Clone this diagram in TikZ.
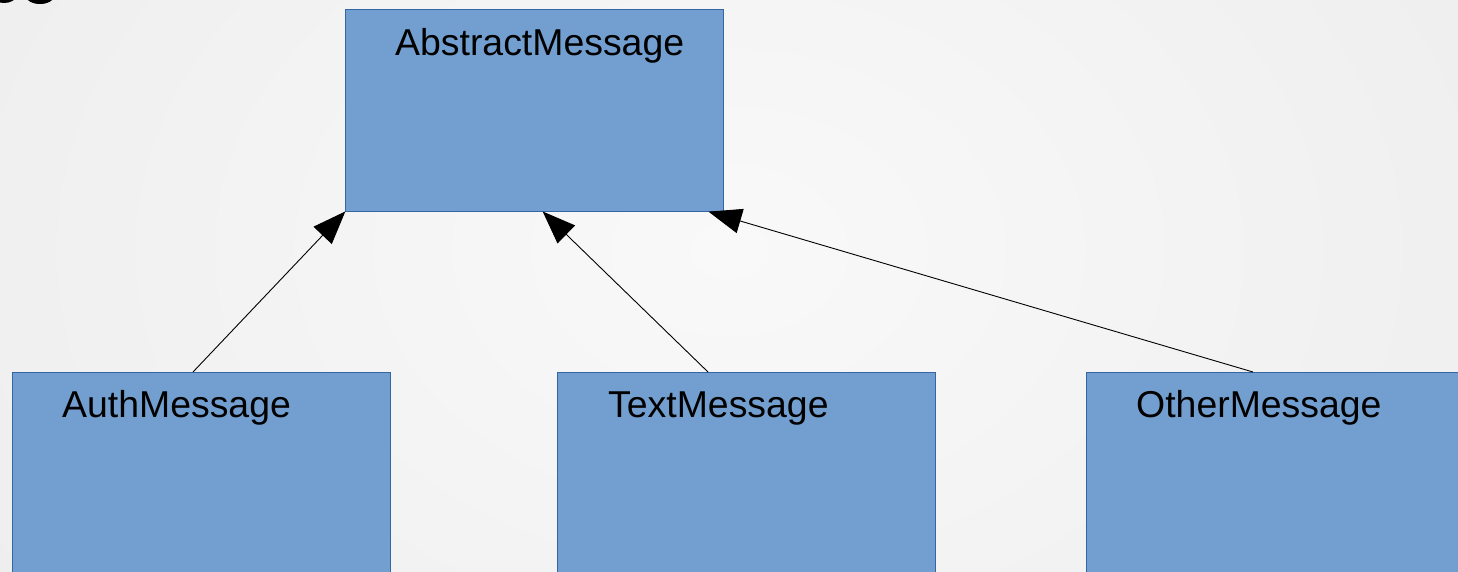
\documentclass[tikz,border=0pt]{standalone}
\usepackage{fontspec}
\setmainfont{Liberation Sans}
\usetikzlibrary{arrows.meta,calc}
\definecolor{boxfill}{HTML}{729FCF}
\definecolor{boxline}{HTML}{3465A4}
\definecolor{bginner}{HTML}{F9F9F9}
\definecolor{bgouter}{HTML}{ECECEC}
\tikzset{
  classbox/.style={draw=boxline, line width=0.8pt, fill=boxfill, rectangle,
    anchor=north west, minimum width=378pt, inner sep=0pt},
  classname/.style={anchor=base west, inner sep=0pt, font=\fontsize{37.4}{40}\selectfont},
  inherit/.style={draw=black, line width=0.9pt,
    -{Triangle[length=33pt,width=25pt]}, shorten >=-0.5pt},
}
\begin{document}
\begin{tikzpicture}[x=1pt,y=-1pt]
  \useasboundingbox (0,0) rectangle (1458,571);
  \clip (0,0) rectangle (1458,571);
  % slide background
  \shade[inner color=bginner, outer color=bgouter] (-300,-500) rectangle (1758,1000);
  % lower edge of the heading above the diagram
  \fill[black] (4,-4) ellipse (12 and 7);
  \fill[black] (40,-3) ellipse (13.5 and 7);
  % classes
  \node[classbox, minimum height=202pt] (abs) at (345,9) {};
  \node[classbox, minimum height=230pt] (auth) at (12,372) {};
  \node[classbox, minimum height=230pt] (text) at (557,372) {};
  \node[classbox, minimum height=230pt] (other) at (1086,372) {};
  \node[classname] (absname) at ($(abs.north west)+(50,46)$) {AbstractMessage};
  \node[classname] (authname) at ($(auth.north west)+(50,45)$) {AuthMessage};
  \node[classname] (textname) at ($(text.north west)+(51,45)$) {TextMessage};
  \node[classname] (othername) at ($(other.north west)+(50,45)$) {OtherMessage};
  % generalisation arrows
  \coordinate (authtop) at ($(auth.north west)+(181,0)$);
  \coordinate (texttop) at ($(text.north west)+(151,0)$);
  \coordinate (othertop) at ($(other.north west)+(167,0)$);
  \coordinate (tipA) at (abs.south west);
  \coordinate (tipB) at ($(abs.south west)+(198,0)$);
  \coordinate (tipC) at ($(abs.south west)+(364,0)$);
  \draw[inherit] (authtop) -- (tipA);
  \draw[inherit] (texttop) -- (tipB);
  \draw[inherit] (othertop) -- (tipC);
\end{tikzpicture}
\end{document}
